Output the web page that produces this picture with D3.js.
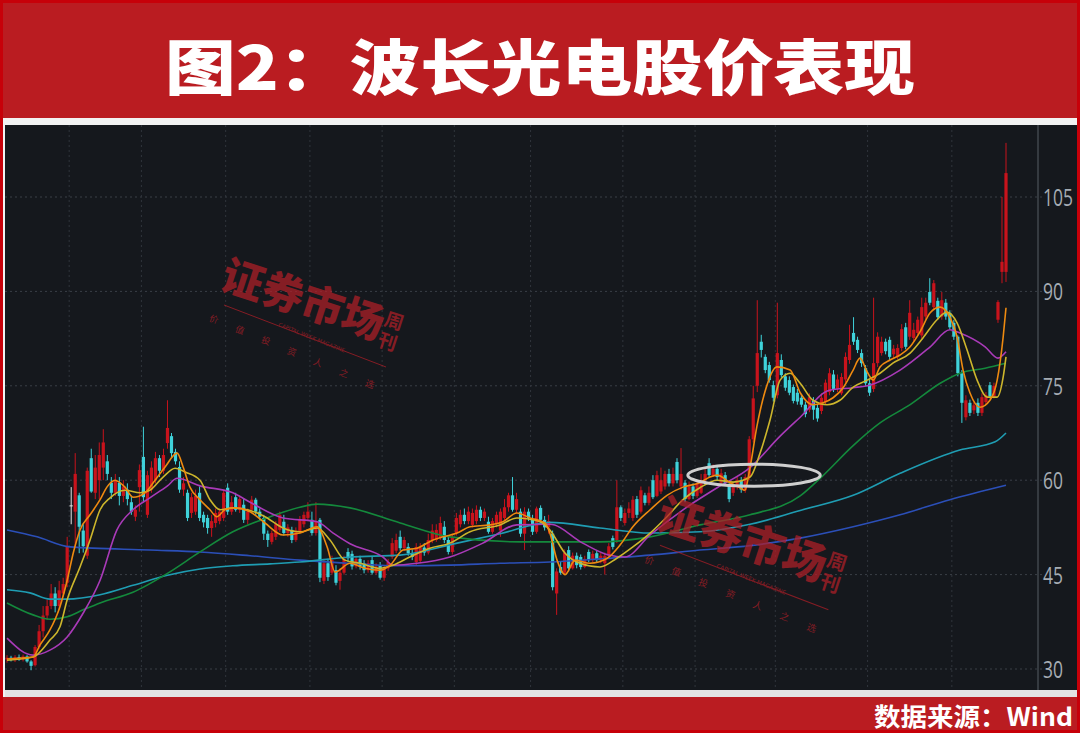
<!DOCTYPE html>
<html><head><meta charset="utf-8">
<script src="https://cdn.jsdelivr.net/npm/d3@7"></script>
<style>html,body{margin:0;padding:0;background:#ba1c21;}svg{display:block;}</style>
</head><body>
<svg id="chart" width="1080" height="733"></svg>
<script>
// ---------------- data ----------------
const title = "图2：波长光电股价表现";
const source = "数据来源：Wind";
const yTicks = [30, 45, 60, 75, 90, 105];
const monthStarts = [16, 34, 55, 76, 94, 112, 131, 154, 172, 192, 215, 236];

const opens = [
31.5,31.8,31.4,31.9,31.5,32.0,31.2,30.6,33.5,36.0,
38.5,40.0,42.0,40.0,42.0,43.7,56.0,55.0,57.6,52.0,
48.0,63.5,58.0,60.0,62.0,63.0,59.6,58.0,59.6,57.5,
58.5,56.5,54.2,58.9,63.7,54.5,58.5,60.0,63.5,61.5,
65.9,67.0,64.5,62.1,58.5,58.0,54.8,55.0,58.0,54.5,
54.0,52.4,53.2,53.5,54.0,58.8,55.0,57.3,55.3,56.1,
53.7,55.3,56.9,55.0,54.0,51.5,50.2,51.0,52.1,53.4,
51.6,52.1,50.5,51.8,53.0,54.0,53.7,51.6,53.7,44.0,
46.8,45.3,45.7,44.0,45.3,48.6,48.3,46.3,47.5,46.8,
45.7,47.3,45.3,46.5,44.5,46.0,47.8,48.8,51.0,49.2,
49.4,48.4,47.0,47.2,49.3,48.5,50.5,50.5,50.8,52.6,
50.5,48.6,51.6,53.0,54.5,53.5,52.9,53.5,55.3,54.0,
53.4,51.8,53.0,52.0,54.0,55.7,57.6,55.3,55.0,51.5,
55.0,53.7,51.8,55.6,53.7,52.5,51.5,42.0,46.2,45.3,
48.9,46.0,48.0,47.8,46.2,48.6,47.3,48.4,47.3,46.8,
48.0,50.8,50.5,55.7,53.2,54.8,54.0,57.0,55.0,57.6,
56.4,60.0,57.5,58.2,59.0,61.0,59.5,62.9,59.0,59.6,
57.0,59.0,57.5,58.0,60.0,62.7,60.8,61.8,59.6,60.8,
59.3,58.0,58.9,60.0,58.4,60.5,66.5,75.0,82.0,79.6,
78.3,75.1,73.5,79.1,76.5,75.9,74.8,73.9,73.1,72.0,
71.2,72.7,71.5,71.0,72.4,74.0,76.8,74.5,73.8,76.0,
79.1,83.4,82.3,80.2,77.8,75.4,74.5,78.6,80.2,82.0,
82.3,80.0,79.6,81.0,84.3,82.8,82.6,83.4,83.0,86.0,
89.9,87.5,88.5,86.0,88.2,86.6,85.0,82.8,77.0,70.0,
72.3,71.1,72.3,70.7,72.4,75.1,73.3,85.5,93.1,93.1];

const highs = [
32.2,32.1,32.2,32.3,32.3,32.2,31.4,33.8,37.0,40.0,
41.0,43.5,43.0,44.0,44.5,51.0,58.9,64.3,58.0,53.0,
62.0,65.0,64.0,66.0,68.1,64.0,60.5,61.0,60.5,60.0,
59.5,57.5,56.0,62.5,68.5,61.5,63.0,64.5,64.0,65.0,
72.7,67.5,65.0,63.0,60.5,58.5,58.0,58.5,59.0,55.0,
54.5,54.5,55.5,55.5,58.5,59.5,57.5,58.0,57.5,57.0,
55.5,57.5,57.2,55.5,54.5,52.0,52.0,53.5,55.0,54.5,
53.0,52.6,52.5,54.3,55.0,56.5,55.0,56.5,54.0,47.5,
47.5,48.0,46.5,46.0,48.0,49.2,48.8,48.0,48.0,47.3,
47.3,47.8,46.8,47.0,46.5,47.5,50.8,51.5,52.0,51.0,
50.0,49.0,50.0,50.0,50.0,51.5,53.0,53.0,54.2,53.5,
51.0,51.5,54.8,55.3,55.5,55.8,55.5,56.0,55.8,55.5,
54.2,54.0,55.0,55.5,57.0,58.0,60.5,58.0,55.5,55.7,
55.5,54.5,55.8,56.0,54.3,54.5,52.0,46.0,47.0,49.0,
49.5,48.5,48.5,48.2,48.0,49.0,48.8,48.8,48.5,48.5,
50.0,51.2,60.0,56.0,55.5,56.5,57.5,57.5,59.0,58.0,
59.0,60.8,61.5,62.0,61.5,61.8,62.0,63.5,65.1,60.0,
59.8,59.5,60.0,61.0,62.0,63.5,62.5,62.3,61.8,61.3,
59.6,59.5,60.5,60.5,61.0,67.0,75.0,88.6,83.1,80.0,
78.8,75.8,88.2,80.0,77.0,76.5,75.2,74.5,73.6,72.5,
73.8,73.2,72.0,73.8,76.0,77.8,77.5,76.8,77.0,80.3,
84.7,85.9,82.8,80.8,78.3,76.0,89.0,83.5,82.8,82.5,
82.8,81.5,81.6,84.8,85.0,88.6,85.0,86.0,89.0,89.0,
92.1,91.8,89.0,89.9,88.8,87.0,85.5,83.0,77.5,73.5,
72.8,72.5,73.0,73.8,74.0,75.6,75.5,88.6,105.0,113.6];

const lows = [
31.0,31.2,31.1,31.3,31.2,31.0,29.8,30.4,33.2,35.0,
37.8,39.5,39.0,39.5,41.5,43.0,53.0,49.2,48.4,48.5,
47.5,58.0,57.0,57.0,60.0,60.0,57.0,57.5,56.0,56.5,
56.0,54.5,53.5,55.0,56.5,54.0,58.0,59.5,60.5,61.0,
65.0,63.5,62.5,58.0,57.5,53.5,54.0,54.5,53.5,52.5,
51.5,51.0,52.5,53.0,53.5,54.5,54.5,55.0,54.8,53.2,
53.0,55.0,54.5,53.5,50.5,49.4,49.8,50.5,51.8,51.2,
51.0,50.0,50.2,51.5,52.5,53.5,51.2,51.2,43.8,43.5,
44.0,45.0,43.3,42.6,45.0,47.0,45.8,46.0,45.8,45.2,
45.3,45.0,45.0,44.2,44.0,45.6,47.5,48.4,48.8,48.8,
48.0,47.3,46.5,46.8,48.0,48.2,50.0,50.2,50.5,50.0,
48.2,48.2,51.2,52.5,53.0,53.0,52.5,53.0,53.5,53.5,
51.5,51.5,52.5,51.0,53.5,55.0,55.0,54.8,51.0,48.9,
53.5,51.3,51.5,53.2,52.0,51.5,42.5,38.6,45.0,45.0,
45.5,45.8,46.0,45.8,46.0,47.0,47.0,47.0,46.8,45.0,
47.8,49.0,50.0,53.5,52.8,54.0,53.5,54.0,54.7,56.0,
56.0,57.0,57.3,57.8,58.5,59.0,59.0,59.5,58.5,56.5,
56.8,57.0,57.2,57.8,59.5,60.5,60.5,60.0,59.3,59.2,
56.5,57.5,58.5,58.0,58.0,60.0,66.0,74.0,79.5,77.0,
75.5,72.5,73.0,76.3,74.2,73.5,72.2,72.0,71.6,70.0,
70.8,69.6,69.3,70.5,72.0,73.5,74.0,74.0,73.5,75.5,
78.5,81.5,80.2,78.0,75.0,73.4,74.0,78.0,79.8,80.0,
79.0,79.3,79.2,80.5,80.8,82.3,82.0,83.0,82.5,85.5,
87.8,87.0,85.5,85.5,85.5,84.0,82.3,76.5,69.1,69.5,
70.2,70.5,70.2,70.2,72.0,73.0,73.0,85.0,91.3,91.5];

const closes = [
31.8,31.4,31.9,31.5,32.0,31.2,30.5,33.5,36.0,38.5,
40.0,42.0,40.0,42.5,43.5,49.4,56.0,61.0,52.6,49.5,
61.5,58.2,62.0,64.0,66.0,61.0,58.0,60.0,57.5,59.0,
57.0,55.0,55.3,61.6,57.3,60.8,62.0,63.5,61.5,64.0,
68.3,64.3,63.0,58.5,59.5,54.0,57.3,57.5,54.0,53.3,
52.4,53.5,54.8,55.0,58.0,55.0,56.5,55.3,57.0,53.7,
55.0,56.9,55.0,54.2,51.5,50.5,51.6,53.0,54.5,51.6,
52.5,50.5,52.0,53.7,54.5,55.0,51.6,53.5,44.5,46.8,
44.6,47.3,43.7,45.3,47.5,47.6,46.3,47.5,46.3,45.7,
46.8,45.3,46.3,44.5,46.0,47.0,50.0,50.5,49.2,50.5,
48.4,47.8,49.4,49.3,48.5,50.5,52.0,52.1,53.2,50.5,
48.6,51.0,54.0,54.5,53.5,55.0,54.8,55.3,54.0,55.0,
51.8,53.5,54.5,55.0,55.7,57.6,55.3,57.0,51.5,55.0,
54.0,51.8,55.5,53.7,52.5,53.5,43.0,45.5,45.3,48.5,
46.0,48.0,46.5,46.2,47.5,47.3,48.3,47.3,48.0,48.0,
49.5,49.4,55.7,54.0,54.8,55.5,56.9,54.5,58.4,56.4,
58.0,57.3,60.8,60.0,61.0,59.5,61.0,60.0,61.0,57.0,
59.0,57.5,59.5,60.0,61.0,60.8,61.8,60.5,61.1,59.6,
57.0,58.9,60.0,58.5,60.5,66.5,73.0,80.2,80.7,77.5,
75.9,73.1,80.2,76.7,74.7,73.9,72.6,72.5,72.0,70.5,
73.2,71.2,69.8,73.1,75.5,77.0,74.5,76.0,76.4,79.6,
81.5,82.0,80.7,78.6,75.4,73.9,78.6,82.8,82.0,80.5,
79.6,80.9,81.0,84.0,81.2,86.6,83.9,85.5,87.5,88.2,
88.2,91.3,85.9,88.6,86.0,84.3,82.8,77.0,72.3,72.7,
70.7,71.9,70.7,73.2,73.5,73.3,75.0,88.3,94.7,108.8];

// moving-average lines, read as [day index, value]
const ma5 = [[0,31.6],[6.5,31.9],[8.2,33.8],[10.7,36.2],[13.2,39.9],[15,44.1],[16.5,48.4],[18.2,52.1],[20.7,54.5],[23.2,56.9],[24.9,58.9],[26.9,60],[29.4,58.9],[31.4,57.3],[34.4,58],[36.9,60],[39.4,62.1],[42.4,64.3],[43.9,62.1],[45.6,58.9],[48.1,56.9],[50.6,55.3],[52.3,54.2],[54.3,55.3],[56.8,55.6],[60.6,55],[64.3,53.2],[68.8,51.3],[73,51.6],[77.3,52.6],[79.8,49.4],[81.8,45.4],[85.5,46.8],[89.2,46],[93,45.7],[95.5,46.5],[98.7,48.9],[102.2,49.2],[106.2,50.5],[108.7,51],[112.2,51.6],[115.4,52.6],[120.4,52.9],[123.6,53.4],[127.1,54.8],[130.4,54],[134.1,53.2],[135.3,51.6],[137.1,47.3],[139.1,45],[141.6,47.3],[145.3,46.8],[149.6,47.6],[152.8,49.7],[156,52.6],[160.3,55.3],[164.5,57.6],[168.5,58.9],[172.7,59.6],[175.2,60.5],[177,60.8],[180.2,59.6],[182.7,58.8],[183.9,58.4],[185.2,62],[186.9,68.5],[188.9,74],[191.9,78],[195.2,77.5],[197.7,73.9],[200.9,72],[203.4,72.3],[205.9,73.1],[208.4,74.7],[210.9,77.5],[212.6,79.4],[214.4,77.2],[215.9,75.9],[217.6,78],[220.1,79.1],[222.6,79.9],[225.1,81.2],[227.6,83.6],[230.1,86.6],[232.6,87.5],[235,85.9],[236.8,82.8],[238.3,77.5],[240,73.9],[242.5,71.6],[245,72.7],[246.8,75.9],[248.3,82.8],[249,87.4]];
const ma10 = [[0,31.4],[6.5,31.9],[10.7,34.6],[13.2,36.7],[15,41],[18.2,46.2],[20.7,50.5],[23.2,55.3],[25.7,57.2],[29.4,58.4],[33.2,58],[35.6,58.4],[38.9,60.5],[41.9,61.9],[44.4,61.3],[48.1,60],[50.6,56.9],[53.1,55.3],[56.3,55.6],[60.6,55.2],[64.3,54.2],[68.8,52.4],[73,51.8],[77.3,52.4],[80.5,50.5],[84.2,47.3],[88,46.8],[93,46],[96.2,46.5],[100.4,47.8],[105.4,49.2],[110.4,50],[115.4,51.8],[122.9,52.9],[127.1,54],[132.9,53.4],[135.3,52.1],[139.1,48.4],[142.8,46.8],[147.8,46.2],[152,47.6],[156,49.4],[160.3,51.6],[164.5,54.2],[168.5,56.9],[172.7,58.8],[177,60],[181,59.7],[185.2,60.5],[187.7,64.3],[190.2,69.6],[192.7,75.9],[195.2,77],[197.7,75.4],[200.9,72.7],[204.4,72],[207.6,72.7],[210.9,74.8],[214.4,75.9],[217.6,77],[220.8,78.6],[225.1,80.2],[228.3,82.6],[231.8,85.5],[234.3,86.7],[236.8,85],[239.3,80.7],[241.8,75.9],[244.3,73.2],[246.8,73.2],[248.3,76.4],[249,79.6]];
const ma20 = [[0,34.9],[6.5,32.2],[10.7,33],[15,35.1],[19,38.9],[23.2,44.1],[27.4,52.1],[31.4,55.3],[35.6,57.2],[40,59.1],[42.4,60.3],[48.1,59.1],[56.3,58],[60.6,56.5],[68.8,54],[77.3,53.4],[81.3,51.6],[85.5,49.9],[93.7,47.8],[96.2,46.5],[102.2,46.8],[110.4,47.8],[118.6,50],[127.1,52.9],[135.3,53],[143.5,50],[150,48.1],[154,47.8],[160.3,51.3],[168.5,55.3],[177,58.8],[185.2,62],[192.7,67],[197.7,70],[205,74.3],[210.9,74.7],[215,75.1],[222.6,77.5],[230.1,81.2],[235,83.9],[237.5,83.4],[243.8,81.2],[247,79.4],[249,80.4]];
const ma60 = [[0,40.5],[6.5,38.6],[10.7,37.9],[15,38.3],[19,39.4],[23.2,40.5],[31.4,42.2],[40,45.2],[48.1,48.6],[56.3,51.8],[65.6,54.2],[73,55.7],[77.3,56.2],[85.5,55.6],[98,53.2],[110.4,51],[128,50.2],[147.8,50.2],[160.3,51],[172.7,52.9],[185.2,54.5],[197.7,57.5],[203,60.5],[210.9,65.5],[217.6,69.1],[225.1,72],[232.6,75.4],[237.5,77],[243.8,77.8],[249,78.6]];
const ma120 = [[0,42.6],[5.7,42.1],[10.7,41.1],[15,41.1],[23.2,41.8],[31.4,43.3],[40,44.9],[48.1,45.9],[56.3,46.4],[65.6,46.7],[73,47],[85.5,47.8],[98,48.1],[112.2,50],[122.9,51.5],[135.3,53.3],[147.8,52.4],[160.3,51.6],[172.7,51.8],[185.2,53],[197.7,55.2],[210.9,57.6],[222.6,61.1],[237.5,64.8],[246.3,66.1],[249,67.5]];
const ma250 = [[0,52.1],[7.5,51],[15.7,49.4],[35.6,48.9],[48.1,48.6],[60.6,48],[73,47.3],[85.5,46.8],[98,46.4],[110.4,46.5],[122.9,46.8],[135.3,47],[147.8,47.5],[160.3,48.1],[172.7,48.9],[185.2,49.6],[197.7,50.8],[210.9,52.6],[222.6,54.5],[235,56.9],[249,59.2]];

const maSeries = [
  {name:"MA250", data:ma250, color:"#2b4fb8"},
  {name:"MA120", data:ma120, color:"#1f9db3"},
  {name:"MA60",  data:ma60,  color:"#14893c"},
  {name:"MA20",  data:ma20,  color:"#a93ab8"},
  {name:"MA10",  data:ma10,  color:"#cdb62c"},
  {name:"MA5",   data:ma5,   color:"#ee8a10"}
];
// highlighted consolidation zone (day index / price units)
const highlight = {i:186.2, v:60.8, halfDays:16.5, halfPrice:1.75};

// ---------------- drawing ----------------
const W = 1080, H = 733;
const svg = d3.select("#chart");
const N = closes.length;
const panel = {x0:5, x1:1077, y0:125, y1:690};
const axisX = 1038;
const x = d3.scaleLinear().domain([0, N-1]).range([7, 1006]);
const y = d3.scaleLinear().domain([30, 105]).range([669, 197]);

svg.append("rect").attr("width", W).attr("height", H).attr("fill", "#ba1c21");
svg.append("rect").attr("x",1.5).attr("y",1.5).attr("width",W-3).attr("height",H-3)
  .attr("fill","none").attr("stroke","#c70009").attr("stroke-width",3);

svg.append("text").text(title)
  .attr("x", 540).attr("y", 63).attr("text-anchor","middle").attr("dominant-baseline","central")
  .attr("font-family","'Noto Sans CJK SC', sans-serif").attr("font-weight",900)
  .attr("font-size",60).attr("fill","#fff")
  .attr("textLength",750).attr("lengthAdjust","spacingAndGlyphs");

svg.append("rect").attr("x",3).attr("y",118).attr("width",1074).attr("height",579).attr("fill","#f2f2f2");
svg.append("rect").attr("x",panel.x0).attr("y",panel.y0).attr("width",panel.x1-panel.x0).attr("height",panel.y1-panel.y0).attr("fill","#15181d");
svg.append("rect").attr("x",panel.x0).attr("y",panel.y1).attr("width",panel.x1-panel.x0).attr("height",7).attr("fill","#e3e3e3");

svg.append("text").text(source)
  .attr("x",1073).attr("y",715).attr("text-anchor","end").attr("dominant-baseline","central")
  .attr("font-family","'Noto Sans CJK SC', sans-serif").attr("font-weight",700)
  .attr("font-size",25).attr("fill","#fff")
  .attr("textLength",199).attr("lengthAdjust","spacingAndGlyphs");

svg.append("defs").append("clipPath").attr("id","plotclip").append("rect")
  .attr("x",panel.x0).attr("y",panel.y0).attr("width",axisX-panel.x0).attr("height",panel.y1-panel.y0);

const grid = svg.append("g");
grid.selectAll("line.h").data(yTicks).join("line")
  .attr("x1",panel.x0).attr("x2",axisX+4).attr("y1",d=>y(d)).attr("y2",d=>y(d))
  .attr("stroke","#3a3f47").attr("stroke-width",1).attr("stroke-dasharray","2,3");
grid.selectAll("line.v").data(monthStarts).join("line")
  .attr("x1",d=>x(d-0.5)).attr("x2",d=>x(d-0.5)).attr("y1",panel.y0).attr("y2",panel.y1)
  .attr("stroke","#30353c").attr("stroke-width",1).attr("stroke-dasharray","2,3");

svg.append("line").attr("x1",axisX).attr("x2",axisX).attr("y1",panel.y0).attr("y2",panel.y1)
  .attr("stroke","#41464d").attr("stroke-width",1.5);
svg.selectAll("text.tick").data(yTicks).join("text").attr("class","tick")
  .text(d=>d).attr("transform",d=>`translate(${axisX+5},${y(d)}) scale(0.76,1)`)
  .attr("dominant-baseline","central")
  .attr("font-family","'Open Sans', sans-serif").attr("font-size",23).attr("fill","#a6acb3");

const plot = svg.append("g").attr("clip-path","url(#plotclip)");
const candles = closes.map((c,i)=>({i, o:opens[i], h:highs[i], l:lows[i], c}));
const colorOf = d => d.c > d.o ? "#c8131c" : (d.c < d.o ? "#3fd2da" : "#e8e8e8");
const cg = plot.append("g");
cg.selectAll("line.wick").data(candles).join("line")
  .attr("x1",d=>x(d.i)).attr("x2",d=>x(d.i)).attr("y1",d=>y(d.h)).attr("y2",d=>y(d.l))
  .attr("stroke",colorOf).attr("stroke-width",1);
cg.selectAll("rect.body").data(candles).join("rect")
  .attr("x",d=>x(d.i)-1.6).attr("width",3.2)
  .attr("y",d=>y(Math.max(d.o,d.c))).attr("height",d=>Math.max(1,Math.abs(y(d.o)-y(d.c))))
  .attr("fill",colorOf);

const line = d3.line().x(d=>x(d[0])).y(d=>y(d[1])).curve(d3.curveMonotoneX);
plot.selectAll("path.ma").data(maSeries).join("path")
  .attr("d",d=>line(d.data)).attr("fill","none").attr("stroke",d=>d.color).attr("stroke-width",1.6);

plot.append("ellipse")
  .attr("cx",x(highlight.i)).attr("cy",y(highlight.v))
  .attr("rx",x(highlight.i+highlight.halfDays)-x(highlight.i))
  .attr("ry",y(highlight.v-highlight.halfPrice)-y(highlight.v))
  .attr("fill","none").attr("stroke","#cfcfcf").attr("stroke-width",3);

// watermark
function watermark(tx, ty, s){
  const g = plot.append("g").attr("transform",`translate(${tx},${ty}) scale(${s})`)
    .attr("fill","#b01f28").attr("opacity",0.72)
    .attr("font-family","'Noto Sans CJK SC', sans-serif");
  g.append("text").text("证券市场").attr("transform","rotate(18)")
    .attr("x",-2).attr("y",0).attr("font-size",42).attr("font-weight",900)
    .attr("letter-spacing",0).attr("dominant-baseline","central");
  g.append("text").text("周").attr("transform","rotate(18)").attr("x",166).attr("y",-6)
    .attr("font-size",19).attr("font-weight",700).attr("dominant-baseline","central");
  g.append("text").text("刊").attr("transform","rotate(18)").attr("x",166).attr("y",16)
    .attr("font-size",19).attr("font-weight",700).attr("dominant-baseline","central");
  g.append("line").attr("x1",-2).attr("y1",34).attr("x2",160).attr("y2",96)
    .attr("stroke","#b01f28").attr("stroke-width",1);
  const small = "价值投资人之选".split("");
  g.selectAll("text.sm").data(small).join("text").text(d=>d)
    .attr("transform",(d,k)=>`translate(${-12 + k*26},${48 + k*10.8}) rotate(20)`)
    .attr("font-size",9).attr("text-anchor","middle").attr("dominant-baseline","central");
  g.append("text").text("CAPITAL WEEK MAGAZINE").attr("transform","translate(52,55) rotate(22)")
    .attr("font-size",5.5).attr("font-family","'DejaVu Sans', sans-serif");
}
watermark(226, 271, 1.0);
watermark(662, 510, 1.04);
</script>
</body></html>
